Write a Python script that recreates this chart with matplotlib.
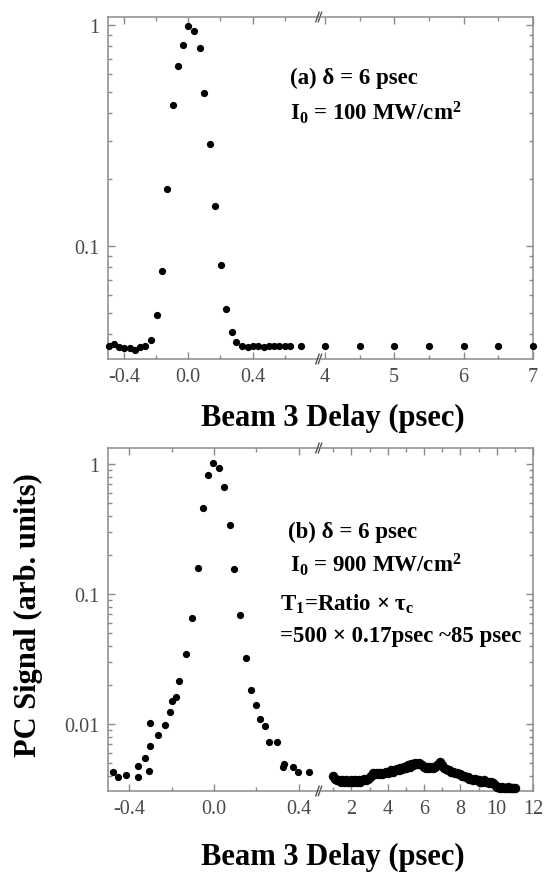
import matplotlib

matplotlib.use("Agg")

import matplotlib.pyplot as plt
from matplotlib.ticker import FixedLocator, LogLocator, MultipleLocator, NullFormatter

plt.rcParams["font.family"] = ["Liberation Serif", "DejaVu Serif"]
plt.rcParams["mathtext.fontset"] = "custom"
plt.rcParams["mathtext.rm"] = "Liberation Serif:bold"
plt.rcParams["mathtext.it"] = "Liberation Serif:italic:bold"
plt.rcParams["mathtext.bf"] = "Liberation Serif:bold"

# panel (a): 100 MW/cm2
a_x_short = [-0.496, -0.465, -0.43, -0.40, -0.365, -0.33, -0.30, -0.27, -0.23, -0.198,
             -0.1625, -0.131, -0.096, -0.065, -0.031, 0.0, 0.035, 0.071, 0.10, 0.135,
             0.167, 0.202, 0.233, 0.269, 0.30, 0.333, 0.369, 0.40, 0.435, 0.469,
             0.50, 0.535, 0.567, 0.602, 0.633, 0.702]
a_y_short = [0.0354, 0.036, 0.035, 0.0344, 0.0344, 0.0337, 0.035, 0.0354, 0.0377, 0.0487,
             0.0774, 0.181, 0.435, 0.655, 0.815, 0.99, 0.94, 0.79, 0.49, 0.29,
             0.151, 0.082, 0.0519, 0.0407, 0.0366, 0.0354, 0.0350, 0.0352, 0.0354, 0.0350,
             0.0352, 0.0354, 0.0352, 0.0354, 0.0352, 0.0354]
a_x_long = [4.0, 4.5, 5.0, 5.5, 6.0, 6.5, 7.0]
a_y_long = [0.0354, 0.0354, 0.0354, 0.0354, 0.0354, 0.0354, 0.0354]

# panel (b): 900 MW/cm2
b_x_short = [-0.478, -0.451, -0.414, -0.359, -0.359, -0.324, -0.305, -0.300, -0.300, -0.264,
             -0.229, -0.209, -0.200, -0.177, -0.163, -0.130, -0.103, -0.077, -0.052, -0.027,
             -0.003, 0.024, 0.047, 0.074, 0.095, 0.122, 0.150, 0.175, 0.198, 0.218,
             0.242, 0.261, 0.297, 0.324, 0.330, 0.372, 0.395, 0.448]
b_y_short = [0.00425, 0.00394, 0.00405, 0.00478, 0.00394, 0.00547, 0.00432, 0.0068, 0.0101, 0.00823,
             0.0098, 0.0123, 0.0151, 0.0162, 0.0216, 0.0345, 0.065, 0.160, 0.456, 0.828,
             1.02, 0.94, 0.662, 0.341, 0.156, 0.069, 0.032, 0.0184, 0.014, 0.011,
             0.0097, 0.0073, 0.0073, 0.00464, 0.0049, 0.0047, 0.00425, 0.0043]
b_x_long = [1.0, 1.1, 1.2, 1.3, 1.4, 1.5, 1.6, 1.7, 1.8, 1.9,
            2.0, 2.1, 2.2, 2.3, 2.4, 2.5, 2.6, 2.7, 2.8, 2.9,
            3.0, 3.1, 3.2, 3.3, 3.4, 3.5, 3.6, 3.7, 3.8, 3.9,
            4.0, 4.1, 4.2, 4.3, 4.4, 4.5, 4.6, 4.7, 4.8, 4.9,
            5.0, 5.1, 5.2, 5.3, 5.4, 5.5, 5.6, 5.7, 5.8, 5.9,
            6.0, 6.1, 6.2, 6.3, 6.4, 6.5, 6.6, 6.7, 6.8, 6.9,
            7.0, 7.1, 7.2, 7.3, 7.4, 7.5, 7.6, 7.7, 7.8, 7.9,
            8.0, 8.1, 8.2, 8.3, 8.4, 8.5, 8.6, 8.7, 8.8, 8.9,
            9.0, 9.1, 9.2, 9.3, 9.4, 9.5, 9.6, 9.7, 9.8, 9.9,
            10.0, 10.1, 10.2, 10.3, 10.4, 10.5, 10.6, 10.7, 10.8, 10.9, 11.0]
b_y_long = [0.0040, 0.0038, 0.0037, 0.0037, 0.0036, 0.0037, 0.0036, 0.0037, 0.0036, 0.0036,
            0.0037, 0.0036, 0.0037, 0.0036, 0.0037, 0.0036, 0.0037, 0.0038, 0.0037, 0.0038,
            0.0039, 0.0040, 0.0042, 0.0041, 0.0042, 0.0041, 0.0042, 0.0041, 0.0042, 0.0043,
            0.0042, 0.0043, 0.0044, 0.0043, 0.0044, 0.0045, 0.0044, 0.0046, 0.0045, 0.0047,
            0.0046, 0.0048, 0.0047, 0.0049, 0.0048, 0.0050, 0.0049, 0.0050, 0.0049, 0.0048,
            0.0047, 0.0046, 0.0047, 0.0046, 0.0047, 0.0046, 0.0047, 0.0048, 0.0049, 0.0051,
            0.0048, 0.0046, 0.0045, 0.0044, 0.0044, 0.0043, 0.0043, 0.0042, 0.0042, 0.0041,
            0.0041, 0.0040, 0.0040, 0.0039, 0.0039, 0.0038, 0.0038, 0.0037, 0.0038, 0.0037,
            0.0037, 0.0036, 0.0036, 0.0037, 0.0036, 0.0036, 0.0035, 0.0036, 0.0035, 0.0034,
            0.0033, 0.0033, 0.0032, 0.0033, 0.0032, 0.0032, 0.0033, 0.0032, 0.0032, 0.0032, 0.0032]

W, H = 544, 878
GRAY = "#8a8a8a"
TICKTXT = "#4a4a4a"

fig = plt.figure(figsize=(W / 100, H / 100), dpi=100)
fig.patch.set_facecolor("white")


def px_box(x0, x1, y0, y1):
    return [x0 / W, 1 - y1 / H, (x1 - x0) / W, (y1 - y0) / H]


def style(ax, side):
    ax.set_yscale("log")
    for sp in ax.spines.values():
        sp.set_color(GRAY)
        sp.set_linewidth(1.1)
    if side == "left":
        ax.spines["right"].set_visible(False)
    else:
        ax.spines["left"].set_visible(False)
    ax.tick_params(which="both", direction="in", color=GRAY, top=True, bottom=True,
                   left=(side == "left"), right=(side == "right"),
                   labelleft=(side == "left"), labelright=False,
                   labelsize=14.5, labelcolor=TICKTXT, width=1.0, pad=6)
    ax.tick_params(which="major", length=5)
    ax.tick_params(which="minor", length=3)
    ax.yaxis.set_major_locator(LogLocator(base=10, numticks=10))
    ax.yaxis.set_minor_locator(LogLocator(base=10, subs=range(2, 10), numticks=10))
    ax.yaxis.set_minor_formatter(NullFormatter())
    ax.set_facecolor("none")


def breaks(ax):
    for dx in (-0.012, 0.0):
        for yy in (0.0, 1.0):
            ax.plot([1 + dx - 0.008, 1 + dx + 0.008], [yy - 0.014, yy + 0.014],
                    transform=ax.transAxes, color="#555555", lw=1.0, clip_on=False, zorder=5)


def ylabels(ax, ticks, labels):
    ax.yaxis.set_major_locator(FixedLocator(ticks))
    ax.set_yticklabels(labels)


mk = dict(ls="none", marker="o", ms=4.2, color="black", clip_on=False, zorder=4)

# ---- panel (a)
a1 = fig.add_axes(px_box(108, 320, 18, 360))
a2 = fig.add_axes(px_box(320, 533, 18, 360))
for ax, side in ((a1, "left"), (a2, "right")):
    style(ax, side)
    ax.set_ylim(0.0308, 1.087)
a1.plot(a_x_short, a_y_short, **mk)
a2.plot(a_x_long, a_y_long, **mk)
a1.set_xlim(-0.5, 0.82)
a2.set_xlim(3.93, 7.0)
a1.xaxis.set_major_locator(FixedLocator([-0.4, 0.0, 0.4]))
a1.set_xticklabels(["-0.4", "0.0", "0.4"])
a1.xaxis.set_minor_locator(FixedLocator([-0.2, 0.2, 0.6]))
a2.xaxis.set_major_locator(FixedLocator([4, 5, 6, 7]))
a2.xaxis.set_minor_locator(FixedLocator([4.5, 5.5, 6.5]))
ylabels(a1, [0.1, 1], ["0.1", "1"])
a2.yaxis.set_major_locator(FixedLocator([0.1, 1]))
breaks(a1)

# ---- panel (b)
b1 = fig.add_axes(px_box(108, 320, 449, 792))
b2 = fig.add_axes(px_box(320, 533, 449, 792))
for ax, side in ((b1, "left"), (b2, "right")):
    style(ax, side)
    ax.set_ylim(0.00305, 1.33)
b1.plot(b_x_short, b_y_short, **mk)
b2.plot(b_x_long, b_y_long, **{**mk, "ms": 5.8})
b1.set_xlim(-0.5, 0.5)
b2.set_xlim(0.27, 12.0)
b1.xaxis.set_major_locator(FixedLocator([-0.4, 0.0, 0.4]))
b1.set_xticklabels(["-0.4", "0.0", "0.4"])
b1.xaxis.set_minor_locator(FixedLocator([-0.2, 0.2]))
b2.xaxis.set_major_locator(FixedLocator([2, 4, 6, 8, 10, 12]))
b2.xaxis.set_minor_locator(MultipleLocator(1))
ylabels(b1, [0.01, 0.1, 1], ["0.01", "0.1", "1"])
b2.yaxis.set_major_locator(FixedLocator([0.01, 0.1, 1]))
breaks(b1)


def ftext(x, y, s, size=16.5, **kw):
    fig.text(x / W, 1 - y / H, s, fontsize=size, fontweight="bold", va="center", **kw)


ftext(333, 418, "Beam 3 Delay (psec)", size=22, ha="center")
ftext(333, 857, "Beam 3 Delay (psec)", size=22, ha="center")
ftext(28, 615, "PC Signal (arb. units)", size=22, ha="center", rotation=90)

ftext(290, 78, "(a) δ = 6 psec")
ftext(290, 113, r"$\mathregular{I_0}$ = 100 MW/cm$^\mathregular{2}$")
ftext(288, 532, "(b) δ = 6 psec")
ftext(290, 565, r"$\mathregular{I_0}$ = 900 MW/cm$^\mathregular{2}$")
ftext(280, 604, r"$\mathregular{T_1}$=Ratio × τ$_\mathregular{c}$")
ftext(280, 637, "=500 × 0.17psec ~85 psec")

fig.savefig("out.png", dpi=100, facecolor="white")
